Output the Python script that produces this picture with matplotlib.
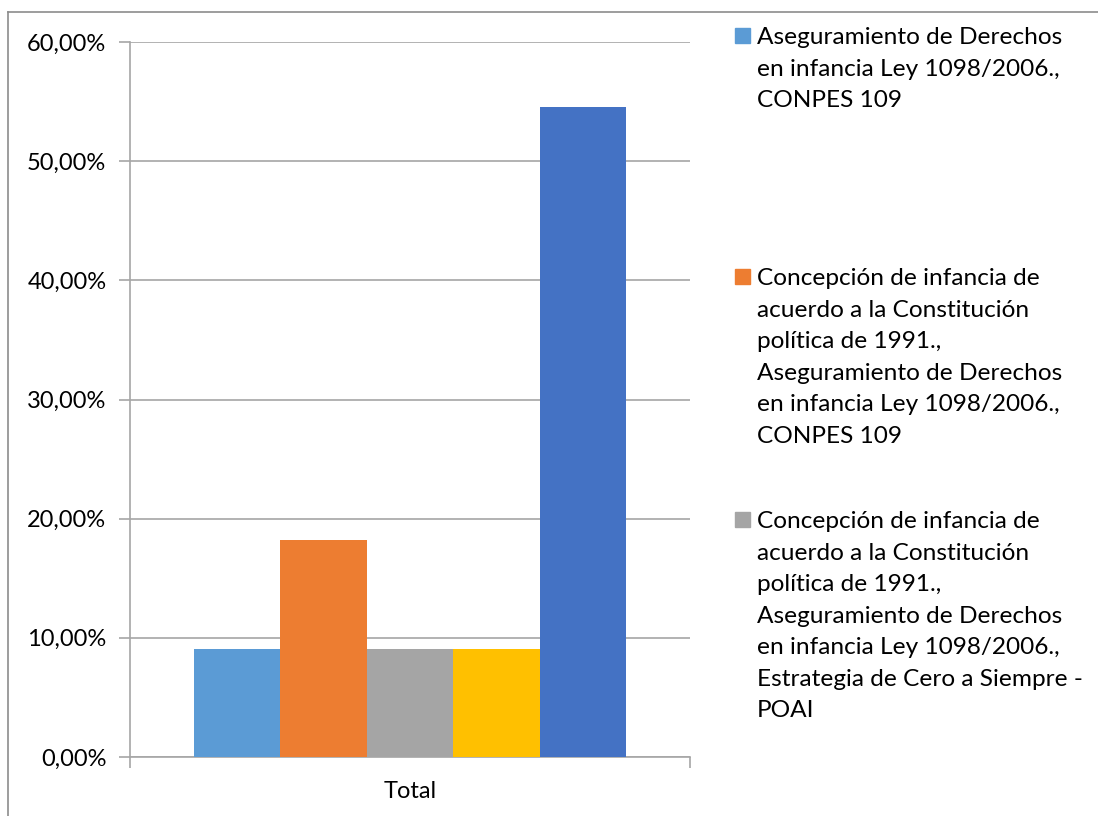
import matplotlib.pyplot as plt
from matplotlib.lines import Line2D
from matplotlib.patches import Rectangle
from matplotlib.ticker import FuncFormatter

series_values = [9.09, 18.18, 9.09, 9.09, 54.55]
series_colors = ["#5B9BD5", "#ED7D31", "#A5A5A5", "#FFC000", "#4472C4"]
category = "Total"
legend_labels = [
    "Aseguramiento de Derechos\nen infancia Ley 1098/2006.,\nCONPES 109",
    "Concepción de infancia de\nacuerdo a la Constitución\npolítica de 1991.,\nAseguramiento de Derechos\nen infancia Ley 1098/2006.,\nCONPES 109",
    "Concepción de infancia de\nacuerdo a la Constitución\npolítica de 1991.,\nAseguramiento de Derechos\nen infancia Ley 1098/2006.,\nEstrategia de Cero a Siempre -\nPOAI",
]
yticks = [0, 10, 20, 30, 40, 50, 60]


def main():
    plt.rcParams['font.family'] = ['Lato', 'DejaVu Sans']
    W, H = 1098, 816
    fig = plt.figure(figsize=(W / 100, H / 100), dpi=100)
    ax = fig.add_axes([130 / W, 1 - 757 / H, 560 / W, 715 / H])

    grey = "#A6A6A6"
    w = 432 / 560 / 5
    for i, (v, c) in enumerate(zip(series_values, series_colors)):
        ax.bar((i - 2) * w, v, width=w, color=c, zorder=3)

    ax.set_xlim(-0.5, 0.5)
    ax.set_ylim(0, 60)
    ax.set_yticks(yticks)
    ax.yaxis.set_major_formatter(FuncFormatter(lambda v, p: f"{v:.2f}%".replace(".", ",")))
    ax.set_xticks([0])
    ax.set_xticklabels([category])
    ax.set_xticks([-0.5, 0.5], minor=True)
    ax.tick_params(axis='x', which='major', length=0, pad=17, labelsize=17)
    ax.tick_params(axis='x', which='minor', length=8, color=grey, width=1.2)
    ax.tick_params(axis='y', length=8, color=grey, width=1.2, pad=9, labelsize=17)
    ax.grid(axis='y', color=grey, linewidth=1.2, zorder=0)
    for s in ['top', 'right']:
        ax.spines[s].set_visible(False)
    for s in ['left', 'bottom']:
        ax.spines[s].set_color(grey)
        ax.spines[s].set_linewidth(1.2)

    # legend, placed by hand like the original
    tops = [36, 277, 520]
    for lab, c, t in zip(legend_labels, series_colors, tops):
        fig.patches.append(Rectangle((735 / W, 1 - (t + 7) / H), 15 / W, 15 / H,
                                     transform=fig.transFigure, color=c))
        fig.text(757 / W, 1 - (t - 9) / H, lab, fontsize=17.6, va='top', ha='left',
                 linespacing=1.62)

    # chart frame
    fig.add_artist(Line2D([8 / W, 8 / W], [0, 1 - 12 / H], color="#8C8C8C", lw=1.2))
    fig.add_artist(Line2D([8 / W, 1], [1 - 12 / H, 1 - 12 / H], color="#8C8C8C", lw=1.2))

    fig.savefig("out.png", dpi=100)


if __name__ == "__main__":
    main()
